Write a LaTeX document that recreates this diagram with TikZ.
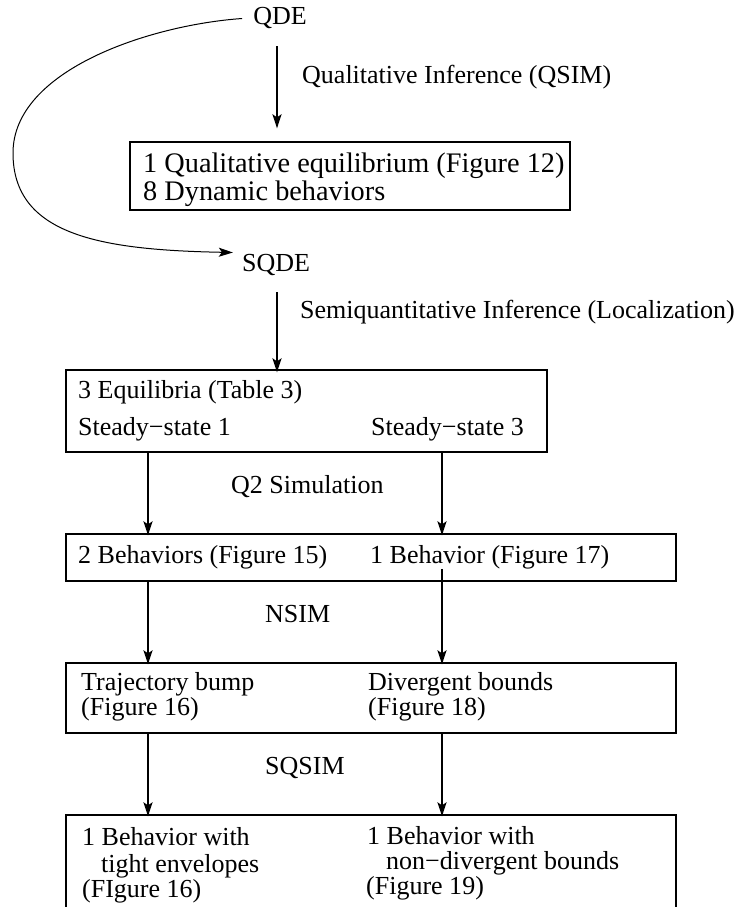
\documentclass[tikz,border=0pt]{standalone}
\usepackage{fontspec}
\setmainfont{Liberation Serif}
\usetikzlibrary{arrows.meta, positioning}

\begin{document}
\begin{tikzpicture}[x=1pt, y=-1pt,
  every node/.style={font=\fontsize{26}{30}\selectfont},
  txt/.style={inner sep=0pt, anchor=base west},
  big/.style={txt, font=\fontsize{28.3}{32}\selectfont},
  box/.style={draw, line width=1.3pt, inner sep=0pt},
  flow/.style={line width=2pt, -{Stealth[length=14pt, width=9pt, inset=3pt]}},
  loop/.style={line width=1pt, -{Stealth[length=14pt, width=9pt, inset=3pt]}}]
\useasboundingbox (0,0) rectangle (743,907);

% columns of the arrows
\coordinate (mid) at (277,0);
\coordinate (colL) at (148,0);
\coordinate (colR) at (442,0);

% QDE and qualitative results
\node[inner sep=0pt, anchor=base] (qde) at (280,25) {QDE};
\node[txt] (qsim) at (302,84) {Qualitative Inference (QSIM)};
\node[box, minimum width=440, minimum height=68] (qbox) at (350,176) {};
\node[big] (q1) at (143,172) {1 Qualitative equilibrium (Figure 12)};
\node[big] (q2) at (143,200) {8 Dynamic behaviors};

% SQDE and localization
\node[inner sep=0pt, anchor=base] (sqde) at (276,271) {SQDE};
\node[txt] (loc) at (300,318) {Semiquantitative Inference (Localization)};
\node[box, minimum width=481, minimum height=82] (eqbox) at (306.5,411) {};
\node[txt] (eq) at (78,398) {3 Equilibria (Table 3)};
\node[txt] (st1) at (78,435) {Steady−state 1};
\node[txt] (st3) at (371,435) {Steady−state 3};

% Q2 simulation
\node[txt] (q2sim) at (231,493) {Q2 Simulation};
\node[box, minimum width=610, minimum height=47] (bbox) at (371,557.5) {};
\node[txt] (b15) at (78,563) {2 Behaviors (Figure 15)};
\node[txt] (b17) at (370,563) {1 Behavior (Figure 17)};

% NSIM
\node[txt] (nsim) at (265,622) {NSIM};
\node[box, minimum width=610, minimum height=70] (nbox) at (371,698) {};
\node[txt] (tb) at (81,690) {Trajectory bump};
\node[txt] (tb2) at (81,715) {(Figure 16)};
\node[txt] (db) at (368,690) {Divergent bounds};
\node[txt] (db2) at (368,715) {(Figure 18)};

% SQSIM
\node[txt] (sqsim) at (265,774) {SQSIM};
\node[box, minimum width=610, minimum height=110] (sbox) at (371,870) {};
\node[txt] (l1) at (82,845) {1 Behavior with};
\node[txt] (l2) at (101,872) {tight envelopes};
\node[txt] (l3) at (82,897) {(FIgure 16)};
\node[txt] (r1) at (367,844) {1 Behavior with};
\node[txt] (r2) at (386,869) {non−divergent bounds};
\node[txt] (r3) at (366,894) {(Figure 19)};

% arrows
\draw[flow, shorten >=13pt] (qde.south -| mid) ++(0,17) -- (qbox.north -| mid);
\draw[loop] ([xshift=-11pt]qde.west) .. controls (150,25) and (13,70) .. (13,153)
  .. controls (13,235) and (100,250) .. ([xshift=-9pt, yshift=12pt]sqde.west);
\draw[flow, shorten >=-3pt] (sqde.south -| mid) ++(0,17) -- (eqbox.north -| mid);
\draw[flow, shorten >=-2pt] (eqbox.south -| colL) -- (bbox.north -| colL);
\draw[flow, shorten >=-2pt] (eqbox.south -| colR) -- (bbox.north -| colR);
\draw[flow, shorten >=-2pt] (bbox.south -| colL) -- (nbox.north -| colL);
\draw[flow, shorten >=-2pt] (b17.south -| colR) -- (nbox.north -| colR);
\draw[flow, shorten >=-2pt] (nbox.south -| colL) -- (sbox.north -| colL);
\draw[flow, shorten >=-2pt] (nbox.south -| colR) -- (sbox.north -| colR);
\end{tikzpicture}
\end{document}
